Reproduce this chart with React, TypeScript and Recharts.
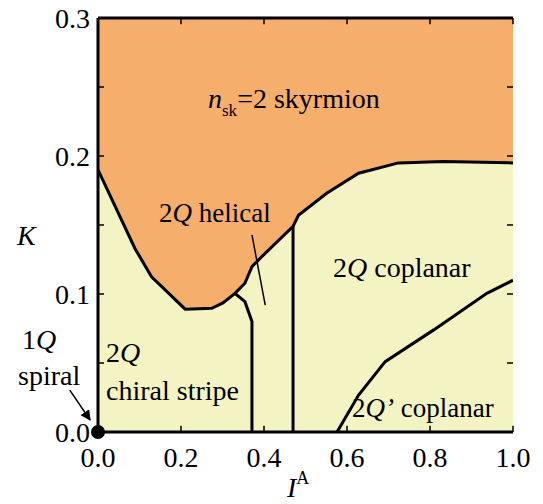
import React from 'react';
import {
  ComposedChart,
  Area,
  Line,
  XAxis,
  YAxis,
  CartesianGrid,
  ReferenceDot,
  ReferenceLine,
} from 'recharts';

// phase boundary between n_sk=2 skyrmion (above) and the other phases (below)
const boundaryIA = [0, 0.089, 0.129, 0.21, 0.274, 0.301, 0.33, 0.354, 0.371, 0.391, 0.47, 0.483, 0.551, 0.628, 0.724, 0.832, 1.0];
const boundaryK = [0.19, 0.133, 0.1125, 0.089, 0.0896, 0.0935, 0.1005, 0.1078, 0.1198, 0.126, 0.149, 0.157, 0.173, 0.1875, 0.195, 0.196, 0.195];

// chiral stripe | helical
const stripeIA = [0.33, 0.354, 0.371, 0.371];
const stripeK = [0.1005, 0.0944, 0.08, 0];

// helical | coplanar
const helicalIA = [0.47, 0.47];
const helicalK = [0.149, 0];

// 2Q coplanar | 2Q' coplanar
const coplanarIA = [0.576, 0.628, 0.692, 0.809, 0.937, 1.0];
const coplanarK = [0, 0.0268, 0.051, 0.074, 0.1005, 0.11];

// pointer from "2Q helical" label
const pointerIA = [0.371, 0.403];
const pointerK = [0.1428, 0.092];

// arrow from "1Q spiral" label to the origin
const arrowIA = [-0.068, -0.019];
const arrowK = [0.0304, 0.0087];

const xTicks = [0, 0.2, 0.4, 0.6, 0.8, 1.0];
const yTicks = [0, 0.05, 0.1, 0.15, 0.2, 0.25, 0.3];

const ORANGE = '#F5AE6B';
const YELLOW = '#F3F3C3';
const FONT = 'Liberation Serif, Tinos, Times New Roman, Times, DejaVu Serif, serif';

const zip = (xs: number[], ks: number[]) => xs.map((x, i) => ({ x, k: ks[i] }));

const boundary = zip(boundaryIA, boundaryK);
const stripe = zip(stripeIA, stripeK);
const helical = zip(helicalIA, helicalK);
const coplanar = zip(coplanarIA, coplanarK);
const pointer = zip(pointerIA, pointerK);

const yLabel = (v: number) => (Math.round(v * 100) % 10 === 0 ? v.toFixed(1) : '');
const border = { stroke: '#000', strokeWidth: 3 };

// tick labels drawn by custom renderers (tickSize=0, so x/y sit on the axis line)
const BottomTick = (props: any) => {
  const { x, y, payload } = props;
  return (
    <text x={x} y={y + 35} textAnchor="middle" fontSize={28} fontFamily={FONT} fill="#000">
      {payload.value.toFixed(1)}
    </text>
  );
};

const LeftTick = (props: any) => {
  const { x, y, payload } = props;
  return (
    <text x={x - 8} y={y + 10} textAnchor="end" fontSize={28} fontFamily={FONT} fill="#000">
      {yLabel(payload.value)}
    </text>
  );
};

export default function App() {
  return (
    <div style={{ position: 'absolute', left: 0, top: 0, width: 543, height: 504 }}>
      <ComposedChart
        width={543}
        height={504}
        margin={{ top: 18, right: 30, bottom: 32, left: 8 }}
      >
        <CartesianGrid horizontal={false} vertical={false} fill={ORANGE} fillOpacity={1} />
        <XAxis
          xAxisId={0}
          type="number"
          dataKey="x"
          domain={[0, 1]}
          ticks={xTicks}
          allowDataOverflow
          height={40}
          tick={<BottomTick />}
          tickSize={0}
          tickMargin={0}
          tickLine={false}
          axisLine={border}
        />
        <YAxis
          yAxisId={0}
          type="number"
          dataKey="k"
          domain={[0, 0.3]}
          ticks={yTicks}
          allowDataOverflow
          width={90}
          tick={<LeftTick />}
          tickSize={0}
          tickMargin={0}
          tickLine={false}
          axisLine={border}
        />
        <YAxis
          yAxisId="right"
          orientation="right"
          type="number"
          domain={[0, 0.3]}
          ticks={yTicks}
          allowDataOverflow
          width={0}
          tick={false}
          tickLine={false}
          axisLine={border}
        />
        <Area
          data={boundary}
          dataKey="k"
          type="linear"
          fill={YELLOW}
          fillOpacity={1}
          stroke="#000"
          strokeWidth={3}
          baseValue={0}
          isAnimationActive={false}
        />
        <Line data={stripe} dataKey="k" type="linear" stroke="#000" strokeWidth={3} dot={false} isAnimationActive={false} />
        <Line data={helical} dataKey="k" type="linear" stroke="#000" strokeWidth={3} dot={false} isAnimationActive={false} />
        <Line data={coplanar} dataKey="k" type="linear" stroke="#000" strokeWidth={3} dot={false} isAnimationActive={false} />
        <Line data={pointer} dataKey="k" type="linear" stroke="#000" strokeWidth={1.5} dot={false} isAnimationActive={false} />
        {/* inward tick marks on all four sides, placed through the axis scales */}
        {xTicks.map((t) => (
          <ReferenceLine
            key={`xb${t}`}
            segment={[{ x: t, y: 0 }, { x: t, y: 0.0045 }]}
            stroke="#000"
            strokeWidth={1.5}
            ifOverflow="visible"
          />
        ))}
        {xTicks.map((t) => (
          <ReferenceLine
            key={`xt${t}`}
            segment={[{ x: t, y: 0.3 }, { x: t, y: 0.2955 }]}
            stroke="#000"
            strokeWidth={1.5}
            ifOverflow="visible"
          />
        ))}
        {yTicks.map((t) => (
          <ReferenceLine
            key={`yl${t}`}
            segment={[{ x: 0, y: t }, { x: 0.0145, y: t }]}
            stroke="#000"
            strokeWidth={1.5}
            ifOverflow="visible"
          />
        ))}
        {yTicks.map((t) => (
          <ReferenceLine
            key={`yr${t}`}
            segment={[{ x: 1, y: t }, { x: 0.9855, y: t }]}
            stroke="#000"
            strokeWidth={1.5}
            ifOverflow="visible"
          />
        ))}
        <ReferenceLine y={0.3} stroke="#000" strokeWidth={3} ifOverflow="visible" />
        <ReferenceLine
          segment={[
            { x: arrowIA[0], y: arrowK[0] },
            { x: arrowIA[1], y: arrowK[1] },
          ]}
          ifOverflow="visible"
          stroke="#000"
          strokeWidth={1.5}
          markerEnd="url(#arrowhead)"
        />
        <ReferenceDot x={0} y={0} r={7} fill="#000" stroke="none" ifOverflow="visible" />
      </ComposedChart>
      <svg
        width={543}
        height={504}
        style={{ position: 'absolute', left: 0, top: 0, pointerEvents: 'none' }}
        fontFamily={FONT}
        fill="#000"
      >
        <defs>
          <marker id="arrowhead" viewBox="0 0 10 10" refX="9" refY="5" markerWidth="7" markerHeight="7" orient="auto">
            <path d="M0,0 L10,5 L0,10 z" fill="#000" />
          </marker>
        </defs>
        <text x={208} y={108} fontSize={28}>
          <tspan fontStyle="italic">n</tspan>
          <tspan fontSize={17} dy={8}>sk</tspan>
          <tspan dy={-8}>=2 skyrmion</tspan>
        </text>
        <text x={159} y={222} fontSize={27}>
          2<tspan fontStyle="italic">Q</tspan> helical
        </text>
        <text x={333} y={277} fontSize={28}>
          2<tspan fontStyle="italic">Q</tspan> coplanar
        </text>
        <text x={352} y={417} fontSize={27}>
          2<tspan fontStyle="italic">Q’</tspan> coplanar
        </text>
        <text x={106} y={362} fontSize={28}>
          2<tspan fontStyle="italic">Q</tspan>
        </text>
        <text x={106} y={400} fontSize={28}>
          chiral stripe
        </text>
        <text x={22} y={349} fontSize={28}>
          1<tspan fontStyle="italic">Q</tspan>
        </text>
        <text x={18} y={385} fontSize={28}>
          spiral
        </text>
        <text x={17} y={245} fontSize={28} fontStyle="italic">
          K
        </text>
        <text x={287} y={497} fontSize={28}>
          <tspan fontStyle="italic">I</tspan>
          <tspan fontSize={18} dy={-13}>A</tspan>
        </text>
      </svg>
    </div>
  );
}
